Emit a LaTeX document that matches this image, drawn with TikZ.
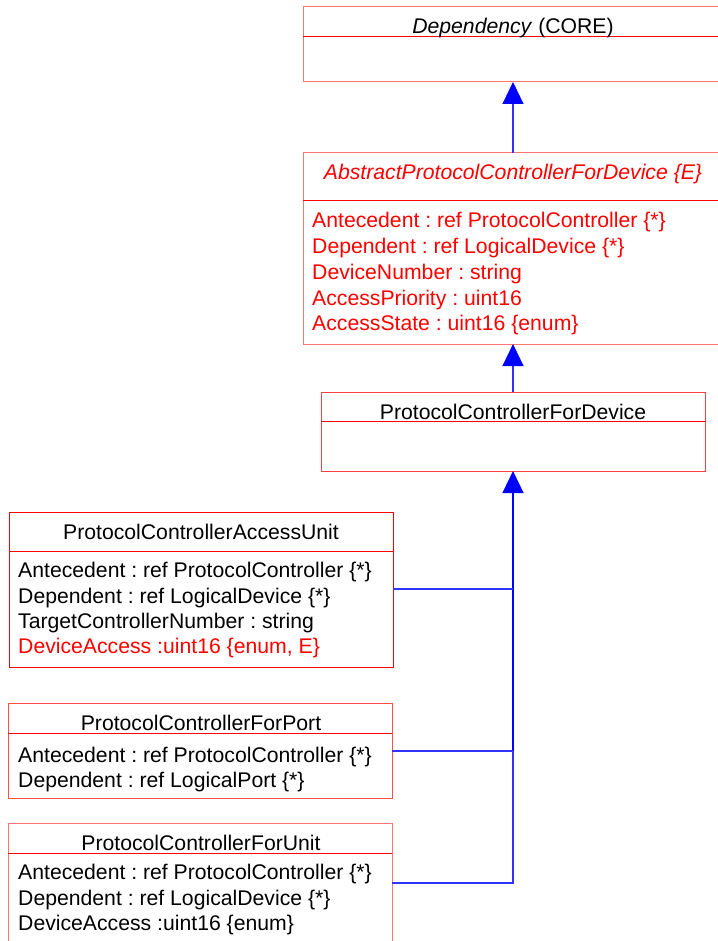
\documentclass[tikz,border=0pt]{standalone}
\usepackage{fontspec}
\setmainfont{Liberation Sans}
\usetikzlibrary{arrows.meta}
\frenchspacing
\tikzset{
  box/.style={draw=red!55, line width=1pt, anchor=north west, inner sep=0pt, outer sep=0pt},
  boxdark/.style={box, draw=red},
  div/.style={draw=red, line width=1pt},
  txt/.style={inner sep=0pt, font=\fontsize{21.2}{25}\selectfont},
  title/.style={txt, anchor=base},
  attr/.style={txt, anchor=base west},
  red text/.style={text=red},
  gen/.style={draw=blue!80, line width=1.1pt, -{Triangle[width=21pt,length=22pt,color=blue]}},
  assoc/.style={draw=blue!80, line width=1.1pt},
}
\begin{document}
\begin{tikzpicture}[x=1pt,y=-1pt]
\frenchspacing
\useasboundingbox (0,0) rectangle (717,941);
\coordinate (spine) at (513,0);

% boxes
\node[box, minimum width=425pt, minimum height=75pt] (dep) at (303,7) {};
\node[box, minimum width=425pt, minimum height=191pt] (abs) at (303,153) {};
\node[box, draw=red!75, minimum width=384pt, minimum height=79pt] (pcd) at (321,392) {};
\node[boxdark, minimum width=384pt, minimum height=155pt] (pcau) at (9,512) {};
\node[box, draw=red!70, minimum width=384pt, minimum height=95pt] (port) at (8,703) {};
\node[box, minimum width=384pt, minimum height=140pt] (unit) at (8,823) {};

% dividers
\draw[div] (dep.west |- 0,37) -- (dep.east |- 0,37);
\draw[div] (abs.west |- 0,201) -- (abs.east |- 0,201);
\draw[div] (pcd.west |- 0,421) -- (pcd.east |- 0,421);
\draw[div] (pcau.west |- 0,551) -- (pcau.east |- 0,551);
\draw[div] (port.west |- 0,733) -- (port.east |- 0,733);
\draw[div] (unit.west |- 0,853) -- (unit.east |- 0,853);

% texts
\node[title] (depT) at (513,34) {\textit{Dependency} (CORE)};

\node[title, red text] (absT) at (513,180) {\textit{AbstractProtocolControllerForDevice \{E\}}};
\node[attr, red text] (absA1) at (312,227) {Antecedent : ref ProtocolController \{*\}};
\node[attr, red text] (absA2) at (312,253) {Dependent : ref LogicalDevice \{*\}};
\node[attr, red text] (absA3) at (312,279) {DeviceNumber : string};
\node[attr, red text] (absA4) at (312,305) {AccessPriority : uint16};
\node[attr, red text] (absA5) at (312,330) {AccessState : uint16 \{enum\}};

\node[title] (pcdT) at (513,419) {ProtocolControllerForDevice};

\node[title] (pcauT) at (201,539) {ProtocolControllerAccessUnit};
\node[attr] (pcauA1) at (18,577) {Antecedent : ref ProtocolController \{*\}};
\node[attr] (pcauA2) at (18,603) {Dependent : ref LogicalDevice \{*\}};
\node[attr] (pcauA3) at (18,628) {TargetControllerNumber : string};
\node[attr, red text] (pcauA4) at (18,653) {DeviceAccess :uint16 \{enum, E\}};

\node[title] (portT) at (201,730) {ProtocolControllerForPort};
\node[attr] (portA1) at (18,762) {Antecedent : ref ProtocolController \{*\}};
\node[attr] (portA2) at (18,787) {Dependent : ref LogicalPort \{*\}};

\node[title] (unitT) at (201,850) {ProtocolControllerForUnit};
\node[attr] (unitA1) at (18,879) {Antecedent : ref ProtocolController \{*\}};
\node[attr] (unitA2) at (18,905) {Dependent : ref LogicalDevice \{*\}};
\node[attr] (unitA3) at (18,930) {DeviceAccess :uint16 \{enum\}};

% connectors
\draw[gen] (abs.north -| spine) -- (dep.south -| spine);
\draw[gen] (pcd.north -| spine) -- (abs.south -| spine);

\path ([yshift=-77pt]pcau.north east) coordinate (cA)
      ([yshift=-48pt]port.north east) coordinate (cP)
      ([yshift=-60pt]unit.north east) coordinate (cU);
\draw[gen] (cU) -| (pcd.south -| spine);
\draw[draw=blue, line width=1.3pt] (cP -| spine) -- ([yshift=-22pt]pcd.south -| spine);
\draw[assoc] (cA) -- (cA -| spine);
\draw[assoc] (cP) -- (cP -| spine);
\end{tikzpicture}
\end{document}
